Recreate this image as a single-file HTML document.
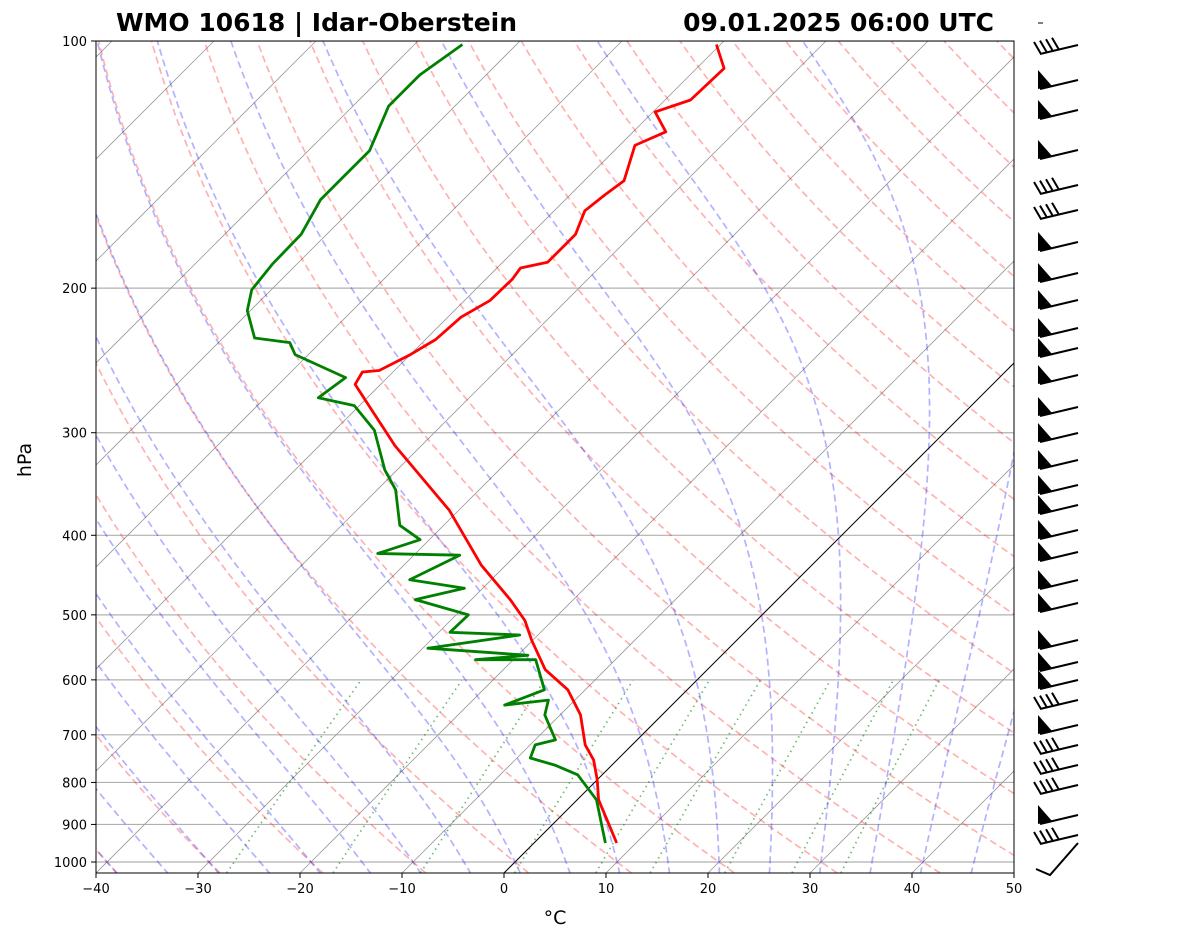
<!DOCTYPE html>
<html><head><meta charset="utf-8"><style>
body{margin:0;background:#fff;}
svg{display:block;font-family:"DejaVu Sans","Liberation Sans",sans-serif;}
</style></head><body>
<svg id="c" width="1181" height="941" xmlns="http://www.w3.org/2000/svg"></svg>
<script>
const presT=[948,840,794,751,720,662,617,583,537,508,479,435,373,311,262,253,252,241,231,217,207,195,189,186,180,172,161,154,148,134,129,122,118,108,101];
const tempC=[8.1,2.1,0.0,-2.3,-4.6,-8,-11.7,-15.9,-20.1,-22.7,-26.2,-32.4,-40.9,-52.6,-62.5,-63,-61.5,-60,-59,-58.7,-57.5,-57.4,-57.7,-55.6,-55.6,-55.6,-57,-56.6,-56.1,-58.5,-56.8,-59.8,-57.5,-57.3,-60.4];
const presD=[948,840,783,762,747,720,710,662,635,644,617,567,567,560,549,529,525,500,479,464,453,423,421,405,389,352,333,298,278,272,257,241,233,230,213,201,187,172,156,147,136,120,110,101];
const dewC=[7,1.9,-2.4,-5.6,-8.7,-9.5,-8,-11.5,-12.6,-16.4,-14,-17.8,-23.7,-19,-29.5,-21.8,-28.9,-28.8,-35.5,-31.8,-38,-35.5,-43.7,-40.9,-44.3,-48.2,-51.2,-56.1,-60.5,-64.8,-64.1,-71.3,-73,-76.9,-80.3,-81.9,-82.4,-82.5,-84,-84,-84,-86.5,-86.5,-85.3];
const xTicks=[-40,-30,-20,-10,0,10,20,30,40,50];
const pTicks=[100,200,300,400,500,600,700,800,900,1000];
const barbY=[45,80,110,150,185,210,242,273,300,328,348,375,407,433,460,485,505,530,552,580,603,640,662,680,700,725,745,765,785,815,835,855];
const barbKind=['f','p','p','p','f','f','p','p','p','p','p','p','p','p','p','p','p','p','p','p','p','p','p','p','f','p','f','f','f','p','f','s'];

const L=96,R=1014,T=41,B=873,PBOT=1031;
const yP=p=>T+821*(Math.log10(p)-2);
const xT=(t,p)=>L+(t+40)*10.2+(B-yP(p));
const NS='http://www.w3.org/2000/svg';
const svg=document.getElementById('c');
function el(tag,attrs,parent){const e=document.createElementNS(NS,tag);for(const k in attrs)e.setAttribute(k,attrs[k]);(parent||svg).appendChild(e);return e;}
const defs=el('defs',{});
const cp=el('clipPath',{id:'clip'},defs);el('rect',{x:L,y:T,width:R-L,height:B-T},cp);
const g=el('g',{'clip-path':'url(#clip)'});


function poly(pts,st,name){const e=el('polyline',Object.assign({points:pts.map(q=>q[0].toFixed(1)+','+q[1].toFixed(1)).join(' '),fill:'none'},st),g);return e;}
const plist=[];for(let p=PBOT;p>=100;p-=5)plist.push(p);plist.push(100);
pTicks.forEach(p=>{const e=el('line',{x1:L,x2:R,y1:yP(p),y2:yP(p),stroke:'#b0b0b0','stroke-width':1.2},g);});
for(let t=-120;t<=50;t+=10){poly([[xT(t,PBOT),yP(PBOT)],[xT(t,100),yP(100)]],{stroke:t==0?'#000':'#999','stroke-width':t==0?1:0.8},'isotherm');}
for(let t0=-50;t0<=200;t0+=10){const th=t0+273.15;poly(plist.map(p=>[xT(th*Math.pow(p/1000,0.2857)-273.15,p),yP(p)]),{stroke:'rgba(255,0,0,0.3)','stroke-width':1.7,'stroke-dasharray':'7,4'},'dry-adiabat');}
function es(tc){return 6.112*Math.exp(17.67*tc/(tc+243.5));}
function dTdp(T,p){const tc=T-273.15;const rs=0.622*es(tc)/(p-es(tc));const Rd=287,Lv=2.501e6,Cp=1005;return (1/p)*(Rd*T+Lv*rs)/(Cp+Lv*Lv*rs*0.622/(Rd*T*T));}
for(let t0=-50;t0<=45;t0+=5){let Tk=t0+273.15;const up=[];let p=1000;up.push([p,Tk]);
 while(p>100){const h=-5;const k1=dTdp(Tk,p),k2=dTdp(Tk+h/2*k1,p+h/2),k3=dTdp(Tk+h/2*k2,p+h/2),k4=dTdp(Tk+h*k3,p+h);Tk+=h/6*(k1+2*k2+2*k3+k4);p+=h;up.push([p,Tk]);}
 let Td=t0+273.15;p=1000;const dn=[];while(p<PBOT){const h=5;Td+=h*dTdp(Td,p);p+=h;dn.unshift([p,Td]);}
 poly(dn.concat(up).map(q=>[xT(q[1]-273.15,q[0]),yP(q[0])]),{stroke:'rgba(0,0,255,0.3)','stroke-width':1.7,'stroke-dasharray':'7,4'},'moist-adiabat');}
[0.0004,0.001,0.002,0.004,0.007,0.01,0.016,0.024,0.032].forEach(w=>{const pts=[];for(let p=PBOT;p>=600;p-=10){const e=w*p/(0.622+w);const l=Math.log(e/6.112);pts.push([xT(243.5*l/(17.67-l),p),yP(p)]);}poly(pts,{stroke:'rgba(0,128,0,0.55)','stroke-width':1.7,'stroke-dasharray':'1.5,4'},'mixing-ratio-line');});
poly(presT.map((p,i)=>[xT(tempC[i],p),yP(p)]),{stroke:'#f00','stroke-width':2.8,'stroke-linejoin':'round'},'temperature-line');
poly(presD.map((p,i)=>[xT(dewC[i],p),yP(p)]),{stroke:'#008000','stroke-width':2.8,'stroke-linejoin':'round'},'dewpoint-line');
const fr=el('rect',{x:L,y:T,width:R-L,height:B-T,fill:'none',stroke:'#000','stroke-width':1});

xTicks.forEach(t=>{const x=L+(t+40)*10.2;el('line',{x1:x,x2:x,y1:B,y2:B+5,stroke:'#000'});const tx=el('text',{x:x,y:B+20,'text-anchor':'middle','font-size':13});tx.textContent=t<0?'\u2212'+(-t):t;});
pTicks.forEach(p=>{const y=yP(p);el('line',{x1:L-5,x2:L,y1:y,y2:y,stroke:'#000'});const tx=el('text',{x:L-9,y:y+5,'text-anchor':'end','font-size':13});tx.textContent=p;});
function txt(s,a,name){const t=el('text',a);t.textContent=s;}
txt('°C',{x:555,y:924,'text-anchor':'middle','font-size':19},'x-axis-title');
txt('hPa',{x:31,y:460,'text-anchor':'middle','font-size':19,transform:'rotate(-90 31 460)'},'y-axis-title');
txt('WMO 10618 | Idar-Oberstein',{x:116,y:31,'font-size':25,'font-weight':'bold',textLength:401,lengthAdjust:'spacingAndGlyphs'},'chart-title');
txt('09.01.2025 06:00 UTC',{x:994,y:31,'text-anchor':'end','font-size':25,'font-weight':'bold'},'chart-date');
el('line',{x1:1038,x2:1043,y1:23,y2:23,stroke:'#000'});
barbY.forEach((y,i)=>{const k=barbKind[i];const bg=el('g',{});
 if(k=='s'){el('polyline',{points:`1078,${y-12} 1050,${y+20} 1036,${y+14}`,fill:'none',stroke:'#000','stroke-width':2},bg);return;}
 el('line',{x1:1078,y1:y,x2:1040,y2:y+9,stroke:'#000','stroke-width':2},bg);
 if(k=='p'){el('polygon',{points:`1038,${y+9} 1038,${y-10} 1052,${y+6}`,fill:'#000'},bg);}
 else{for(let j=0;j<4;j++){const x=1041+j*6;el('line',{x1:x,y1:y+9-j*1.4,x2:x-7,y2:y-3-j*1.4,stroke:'#000','stroke-width':2},bg);}}
});
</script>
</body></html>
